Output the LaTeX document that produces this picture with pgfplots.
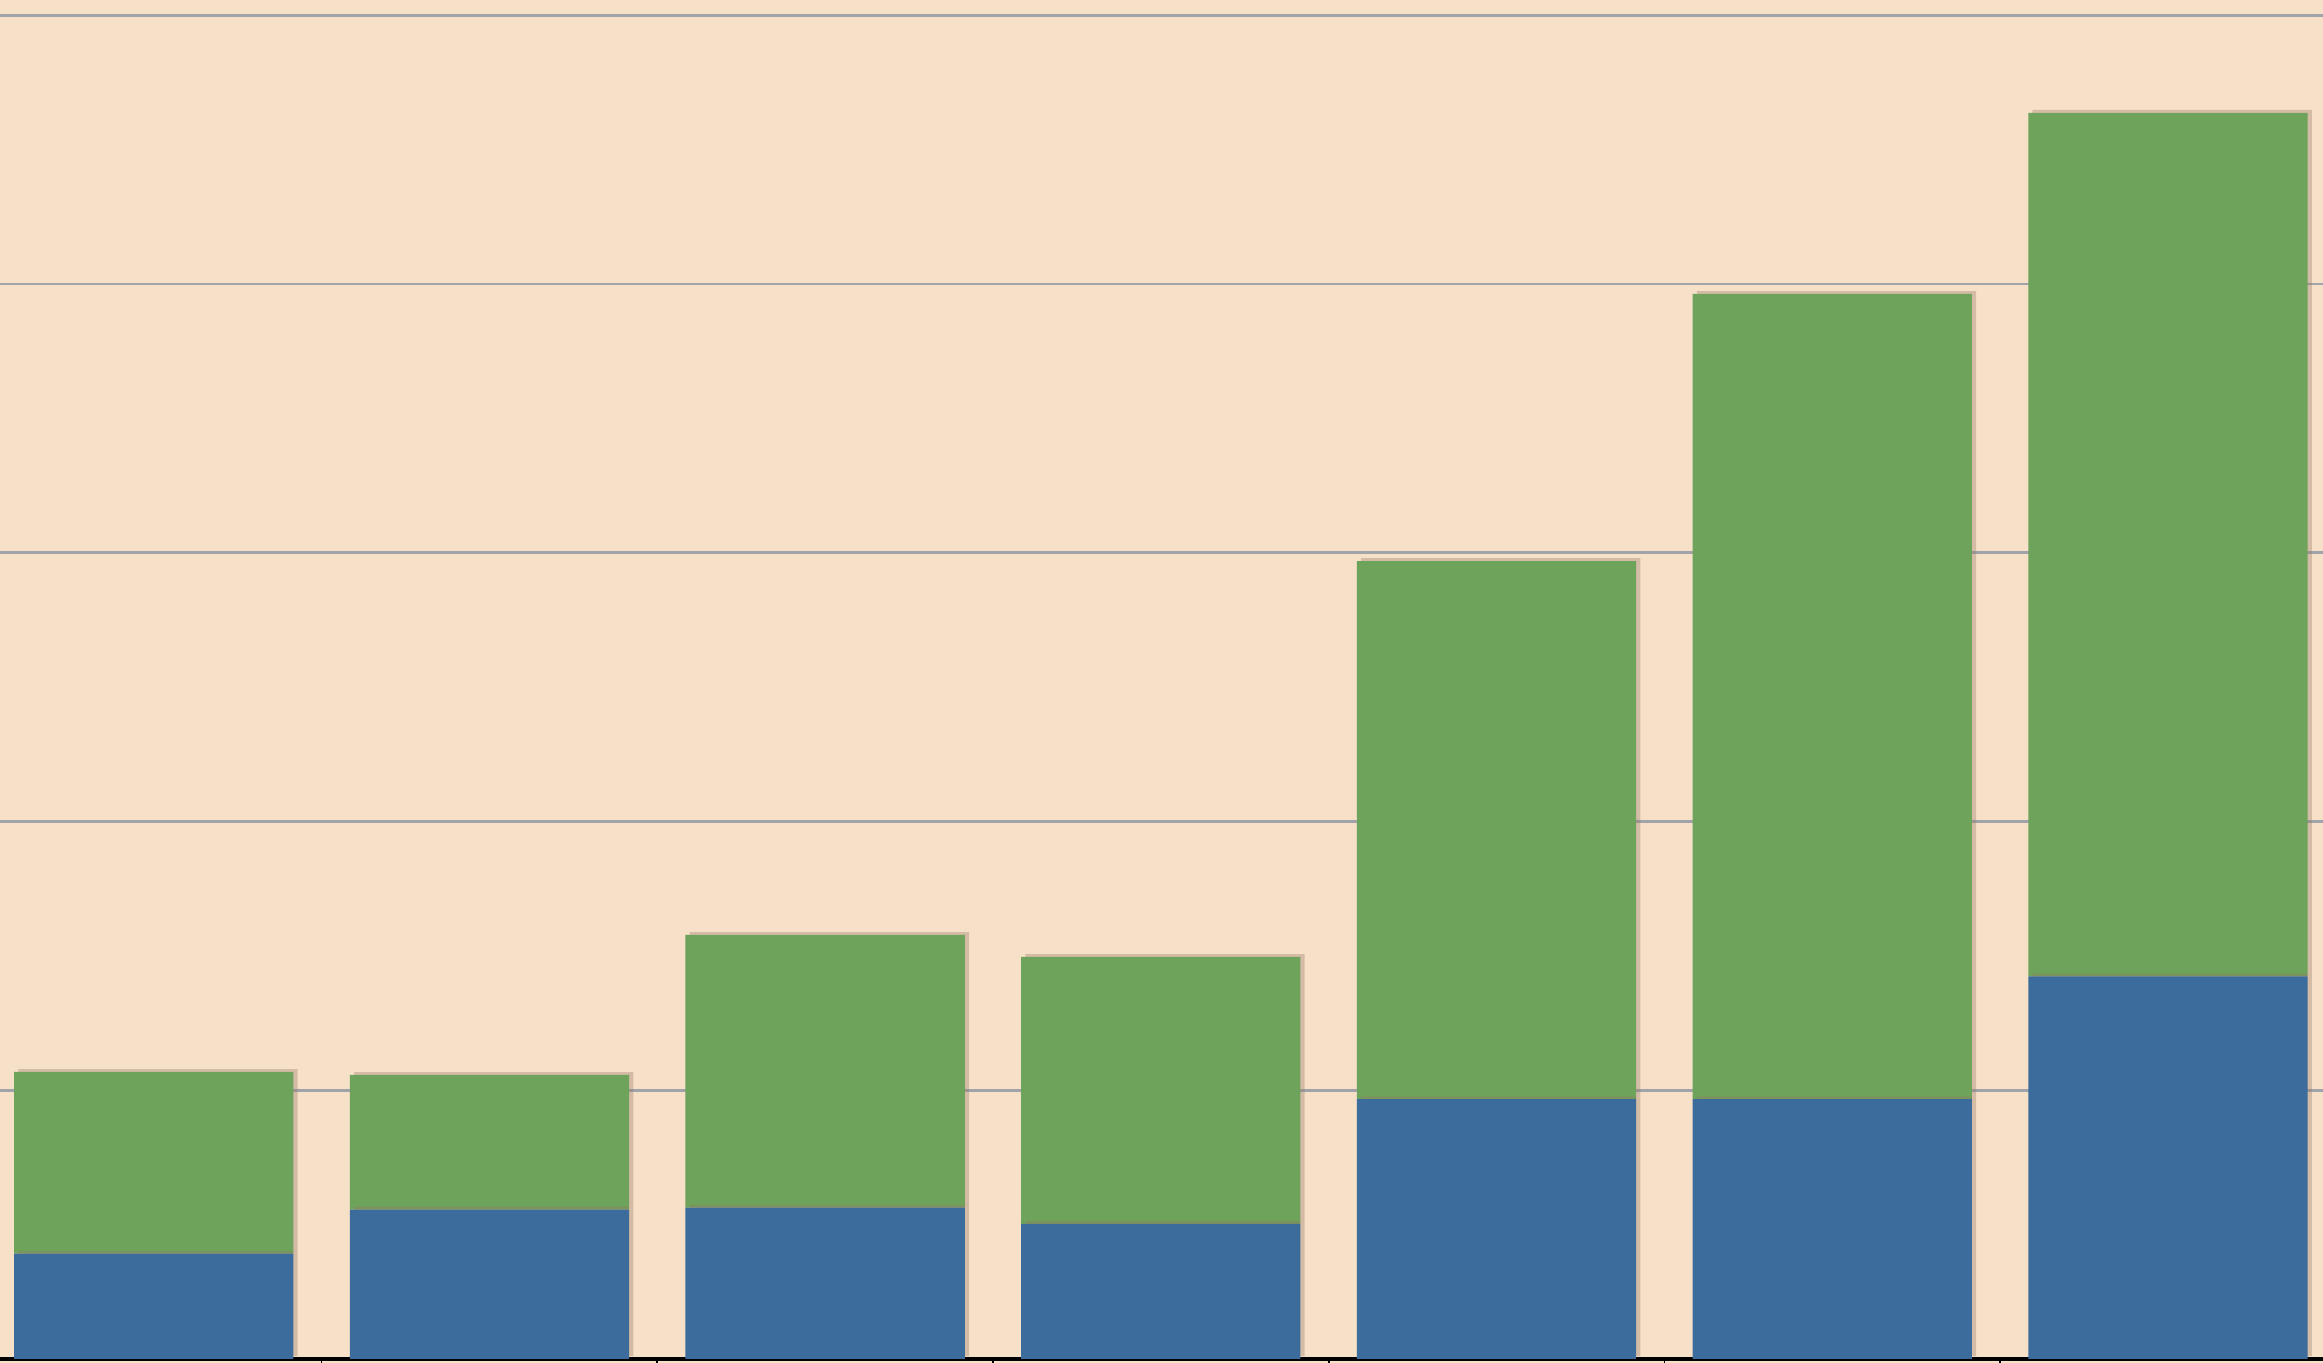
\documentclass[border=0pt]{standalone}
\usepackage{pgfplots}
\pgfplotsset{compat=1.18}
\definecolor{parch}{RGB}{246,224,200}
\definecolor{barblue}{RGB}{60,108,156}
\definecolor{bargreen}{RGB}{109,163,90}
\definecolor{gridgray}{RGB}{160,164,170}
\definecolor{shadowc}{RGB}{150,120,100}
\begin{document}
\begin{tikzpicture}[x=1cm,y=1cm]
\fill[parch] (0,0) rectangle (23.23,13.63);
\begin{axis}[
  at={(0cm,0.04cm)}, anchor=south west,
  scale only axis,
  width=23.23cm, height=13.59cm,
  xmin=-0.458, xmax=6.462,
  ymin=0, ymax=5.0567,
  ybar stacked, bar width=0.832, bar shift=0pt,
  separate axis lines,
  axis x line*=bottom,
  axis y line*=left,
  x axis line style={black, line width=0.9pt},
  y axis line style={draw=none},
  xtick={0.5,1.5,2.5,3.5,4.5,5.5},
  xticklabels={},
  x tick style={black, line width=0.5pt},
  y tick style={draw=none},
  tick align=outside,
  major tick length=0.12cm,
  ytick={1,2,3,4,5},
  yticklabels={},
  ymajorgrids,
  y grid style={gridgray, line width=0.8pt},
  clip=false,
]
\addplot[fill=barblue, draw=none,
  preaction={fill=shadowc, opacity=0.35, transform canvas={xshift=1.2pt, yshift=0.8pt}}] coordinates {
  (0,0.392) (1,0.556) (2,0.563) (3,0.503) (4,0.967) (5,0.967) (6,1.424)};
\addplot[fill=bargreen, draw=none,
  preaction={fill=shadowc, opacity=0.35, transform canvas={xshift=1.2pt, yshift=0.8pt}}] coordinates {
  (0,0.676) (1,0.501) (2,1.015) (3,0.993) (4,2.002) (5,2.996) (6,3.213)};
\end{axis}
\pgfresetboundingbox
\path[use as bounding box] (0,0) rectangle (23.23,13.63);
\end{tikzpicture}
\end{document}
